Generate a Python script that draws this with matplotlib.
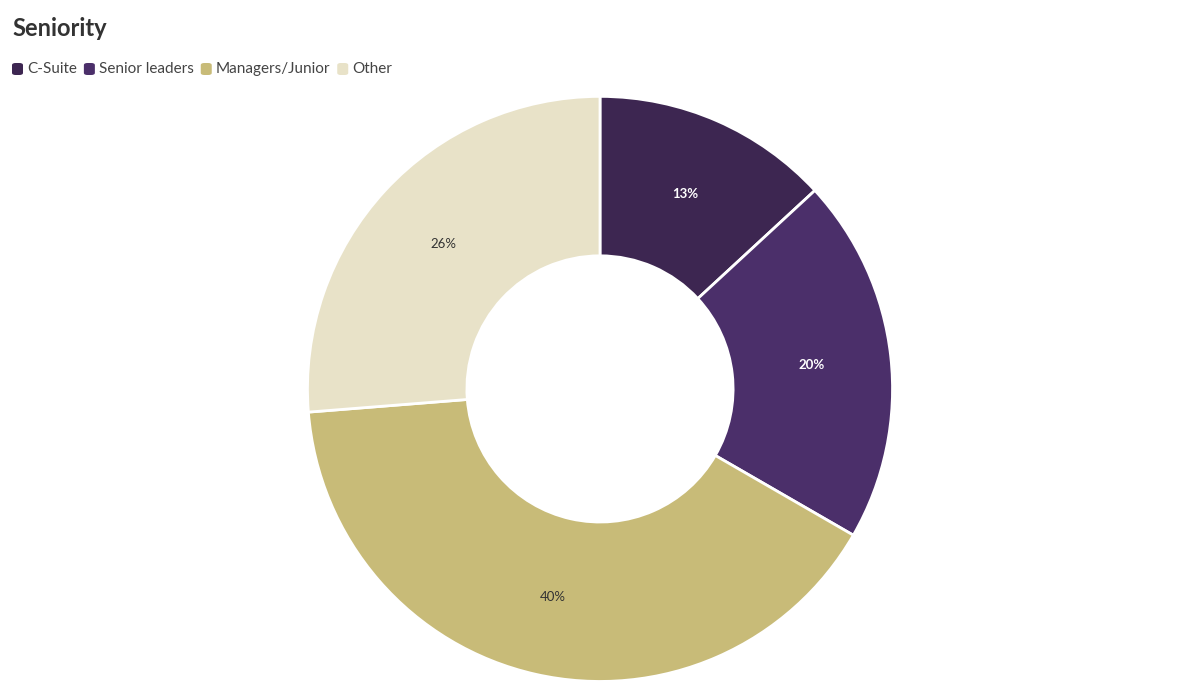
import numpy as np
import matplotlib.pyplot as plt
from matplotlib.patches import FancyBboxPatch

categories = ['C-Suite', 'Senior leaders', 'Managers/Junior', 'Other']
values = [13, 20, 40, 26]
colors = ['#3d2651', '#4b2f6a', '#c8bb78', '#e8e2c8']
label_colors = ['white', 'white', '#333333', '#333333']
label_weights = ['bold', 'bold', 'normal', 'normal']

plt.rcParams['font.family'] = 'Lato'
fig = plt.figure(figsize=(12, 6.96), dpi=100)
ax = fig.add_axes([0.255, 0.0187, 0.49, 0.845])

ax.pie(values, colors=colors, startangle=90, counterclock=False,
       radius=1.0, wedgeprops=dict(width=0.545, edgecolor='white', linewidth=2))
total = sum(values)
ang = 90.0
for v, c, w in zip(values, label_colors, label_weights):
    mid = np.deg2rad(ang - v / total * 360 / 2)
    ang -= v / total * 360
    r = 0.728
    ax.text(r * np.cos(mid), r * np.sin(mid), f'{v}%', ha='center', va='center',
            color=c, fontsize=9.5, fontweight=w)
ax.set_xlim(-1.005, 1.005)
ax.set_ylim(-1.005, 1.005)
ax.set_aspect('equal')
ax.axis('off')

fig.text(12 / 1200, 1 - 28 / 696, 'Seniority', fontsize=17, fontweight='bold',
         color='#333333', va='center', ha='left')

# legend
x = 12
y = 1 - 69 / 696
renderer = fig.canvas.get_renderer()
for cat, col in zip(categories, colors):
    fig.patches.append(FancyBboxPatch((x / 1200, y - 6 / 696), 11 / 1200, 12 / 696,
                                      boxstyle='round,pad=0,rounding_size=0.003',
                                      transform=fig.transFigure, facecolor=col,
                                      edgecolor='none'))
    t = fig.text((x + 15) / 1200, y, cat, fontsize=11, color='#444444', va='center', ha='left')
    bb = t.get_window_extent(renderer)
    x = x + 15 + bb.width + 7

fig.savefig('out.png', dpi=100)
